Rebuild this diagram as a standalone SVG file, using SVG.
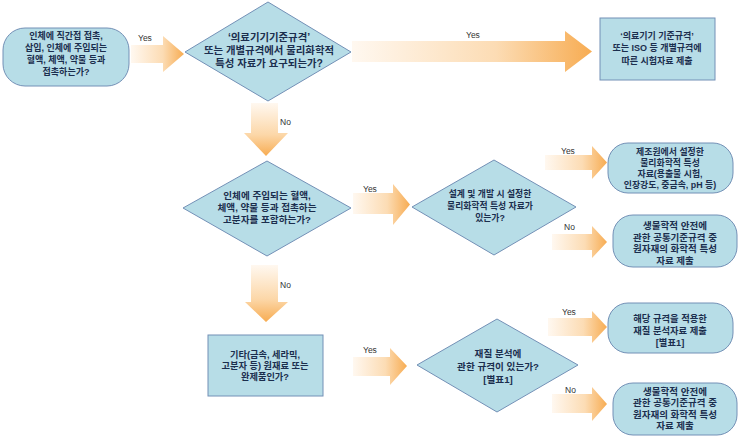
<svg xmlns="http://www.w3.org/2000/svg" width="743" height="440" viewBox="0 0 743 440">
<defs>
<linearGradient id="gH" x1="0" y1="0" x2="1" y2="0">
<stop offset="0" stop-color="#fff8f0"/>
<stop offset="0.6" stop-color="#fcdcb4"/>
<stop offset="1" stop-color="#f7ac52"/>
</linearGradient>
<linearGradient id="gV" x1="0" y1="0" x2="0" y2="1">
<stop offset="0" stop-color="#fff8f0"/>
<stop offset="0.6" stop-color="#fcd7a8"/>
<stop offset="1" stop-color="#f7ac52"/>
</linearGradient>
<style>
.n{fill:#b7dde7;stroke:#7390b6;stroke-width:1}
.t{font-family:"Liberation Sans","Noto Sans CJK KR",sans-serif;font-weight:700;fill:#1b2e4e;text-anchor:middle}
.l{font-family:"Liberation Sans","Noto Sans",sans-serif;font-size:8.5px;fill:#333333}
.ah{fill:url(#gH)}
.av{fill:url(#gV)}
</style>
</defs>
<rect width="743" height="440" fill="#ffffff"/>

<g id="connectors">
<polygon class="ah" points="131,45 163,45 163,36 184,54 163,72 163,63 131,63"/>
<text class="l" x="138" y="41">Yes</text>
<polygon class="ah" points="352,41 565,41 565,31 592,51.5 565,72 565,62 352,62"/>
<text class="l" x="466" y="38">Yes</text>
<polygon class="av" points="251,103 278,103 278,133 288,133 266,156 244,133 251,133"/>
<text class="l" x="280" y="125">No</text>
<polygon class="ah" points="353,193 393,193 393,184 410,204.5 393,225 393,214 353,214"/>
<text class="l" x="363" y="192">Yes</text>
<polygon class="ah" points="545,155 592,155 592,146 607,162.5 592,179 592,170 545,170"/>
<text class="l" x="561" y="154">Yes</text>
<polygon class="ah" points="552,234 592,234 592,226 607,242 592,258 592,250 552,250"/>
<text class="l" x="564" y="230">No</text>
<polygon class="av" points="251,265 278,265 278,302 288,302 266,322 245,302 251,302"/>
<text class="l" x="280" y="288">No</text>
<polygon class="ah" points="353,357 390,357 390,348 407,366 390,385 390,376 353,376"/>
<text class="l" x="363" y="353">Yes</text>
<polygon class="ah" points="548,318 592,318 592,311 607,327 592,343 592,336 548,336"/>
<text class="l" x="562" y="315">Yes</text>
<polygon class="ah" points="552,394 592,394 592,387 607,404 592,421 592,413 552,413"/>
<text class="l" x="565" y="393">No</text>
</g>

<g id="start">
<rect class="n" x="3" y="28" width="126" height="58" rx="22" ry="22"/>
<text class="t" style="font-size:9px" x="66" y="38.5">인체에 직간접 접촉,</text>
<text class="t" style="font-size:9px" x="66" y="51">삽입, 인체에 주입되는</text>
<text class="t" style="font-size:9px" x="66" y="63">혈액, 체액, 약물 등과</text>
<text class="t" style="font-size:9px" x="66" y="75">접촉하는가?</text>
</g>

<g id="decision1">
<polygon class="n" points="185,52 268,2 351,52 268,101"/>
<text class="t" style="font-size:10.4px" x="269" y="41">‘의료기기기준규격’</text>
<text class="t" style="font-size:10.4px" x="269" y="54">또는 개별규격에서 물리화학적</text>
<text class="t" style="font-size:10.4px" x="269" y="67">특성 자료가 요구되는가?</text>
</g>

<g id="result1">
<rect class="n" x="600" y="18" width="115" height="62"/>
<text class="t" style="font-size:9px" x="657" y="38.5">‘의료기기 기준규격’</text>
<text class="t" style="font-size:9px" x="657" y="51">또는 ISO 등 개별규격에</text>
<text class="t" style="font-size:9px" x="657" y="63.5">따른 시험자료 제출</text>
</g>

<g id="decision2">
<polygon class="n" points="183,208 267,161 351,208 267,256"/>
<text class="t" style="font-size:9.6px" x="267" y="198.5">인체에 주입되는 혈액,</text>
<text class="t" style="font-size:9.6px" x="267" y="210.5">체액, 약물 등과 접촉하는</text>
<text class="t" style="font-size:9.6px" x="267" y="222.5">고분자를 포함하는가?</text>
</g>

<g id="decision3">
<polygon class="n" points="412,207 494,160 576,207 494,255"/>
<text class="t" style="font-size:8.8px" x="490" y="196.5">설계 및 개발 시 설정한</text>
<text class="t" style="font-size:8.8px" x="490" y="208.5">물리화학적 특성 자료가</text>
<text class="t" style="font-size:8.8px" x="490" y="220.5">있는가?</text>
</g>

<g id="result2">
<rect class="n" x="608" y="143" width="125" height="50" rx="20" ry="20"/>
<text class="t" style="font-size:8.9px" x="670" y="154.5">제조원에서 설정한</text>
<text class="t" style="font-size:8.9px" x="670" y="165.5">물리화학적 특성</text>
<text class="t" style="font-size:8.9px" x="670" y="176.5">자료(용출물 시험,</text>
<text class="t" style="font-size:8.9px" x="670" y="187.5">인장강도, 중금속, pH 등)</text>
</g>

<g id="result3">
<rect class="n" x="613" y="215" width="124" height="52" rx="20" ry="20"/>
<text class="t" style="font-size:9.5px" x="675" y="229">생물학적 안전에</text>
<text class="t" style="font-size:9.5px" x="675" y="240.5">관한 공통기준규격 중</text>
<text class="t" style="font-size:9.5px" x="675" y="252">원자재의 화학적 특성</text>
<text class="t" style="font-size:9.5px" x="675" y="263.5">자료 제출</text>
</g>

<g id="decision4box">
<rect class="n" x="208" y="335" width="115" height="61"/>
<text class="t" style="font-size:9.2px" x="265" y="358">기타(금속, 세라믹,</text>
<text class="t" style="font-size:9.2px" x="265" y="369.2">고분자 등) 원재료 또는</text>
<text class="t" style="font-size:9.2px" x="265" y="380.4">완제품인가?</text>
</g>

<g id="decision5">
<polygon class="n" points="417,365 497,319 578,365 497,412"/>
<text class="t" style="font-size:9.6px" x="498" y="356.5">재질 분석에</text>
<text class="t" style="font-size:9.6px" x="498" y="370">관한 규격이 있는가?</text>
<text class="t" style="font-size:9.6px" x="498" y="383">[별표1]</text>
</g>

<g id="result4">
<rect class="n" x="608" y="303" width="125" height="50" rx="20" ry="20"/>
<text class="t" style="font-size:9.3px" x="670" y="321.5">해당 규격을 적용한</text>
<text class="t" style="font-size:9.3px" x="670" y="333.5">재질 분석자료 제출</text>
<text class="t" style="font-size:9.3px" x="670" y="345.5">[별표1]</text>
</g>

<g id="result5">
<rect class="n" x="613" y="383" width="124" height="52" rx="20" ry="20"/>
<text class="t" style="font-size:9.5px" x="675" y="394.5">생물학적 안전에</text>
<text class="t" style="font-size:9.5px" x="675" y="406">관한 공통기준규격 중</text>
<text class="t" style="font-size:9.5px" x="675" y="417.5">원자재의 화학적 특성</text>
<text class="t" style="font-size:9.5px" x="675" y="429">자료 제출</text>
</g>
</svg>
